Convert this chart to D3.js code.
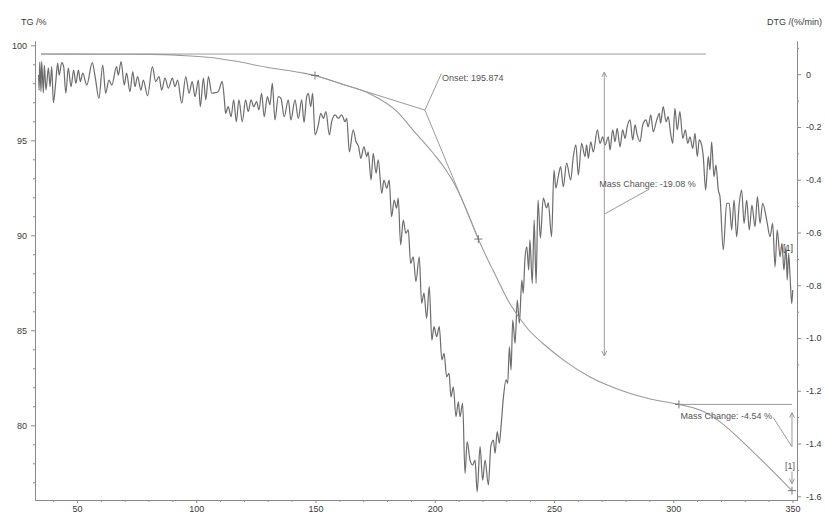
<!DOCTYPE html>
<html><head><meta charset="utf-8">
<script src="https://cdn.jsdelivr.net/npm/d3@7"></script>
<style>
html,body{margin:0;padding:0;background:#fff;}
svg{display:block;font-family:"Liberation Sans",Arial,sans-serif;}
</style></head><body>
<svg id="chart" width="825" height="516"></svg>
<script>
// Axis ticks
const tempTicks = [50, 100, 150, 200, 250, 300, 350];
const tgTicks = [80, 85, 90, 95, 100];
const dtgTicks = [0, -0.2, -0.4, -0.6, -0.8, -1.0, -1.2, -1.4, -1.6];

// TG curve: temperature (°C) and residual mass (%)
const tgTemp = [34.9, 59.6, 80.6, 93.2, 105.8, 116.2, 130.1, 143.5, 149.8, 160.3, 172.9, 184.2, 190.9, 199.3, 204.7, 208.5, 211.8, 214.8, 218.3, 221.5, 224.4, 231.6, 238.7, 247.1, 254.6, 265.1, 277.7, 290.3, 302.4, 311.2, 318.3, 334.3, 349.8];
const tgMass = [99.54, 99.53, 99.52, 99.47, 99.36, 99.17, 98.83, 98.57, 98.41, 97.99, 97.44, 96.51, 95.54, 94.33, 93.44, 92.65, 91.78, 90.88, 89.80, 88.91, 88.17, 86.38, 85.12, 84.12, 83.38, 82.54, 81.86, 81.38, 81.10, 80.80, 80.30, 78.50, 76.56];

// DTG curve: temperature (°C) and mass-loss rate (%/min)
const dtgTemp = [33.9, 34.1, 34.4, 34.9, 35.2, 35.9, 36.3, 37.0, 38.0, 38.7, 39.4, 40.1, 41.1, 41.9, 42.5, 43.6, 44.4, 45.3, 46.35, 47.5, 48.6, 49.5, 50.6, 51.4, 52.4, 54.1, 56.4, 57.6, 59.2, 60.8, 62.0, 63.4, 64.6, 66.6, 67.3, 68.5, 69.8, 70.8, 72.2, 73.4, 74.3, 75.4, 76.8, 77.8, 79.6, 81.6, 83.0, 84.4, 85.5, 86.9, 88.3, 90.0, 91.1, 92.2, 93.9, 95.6, 97.0, 98.3, 99.5, 100.9, 101.7, 103.0, 104.0, 105.1, 106.5, 107.9, 109.2, 110.9, 111.8, 112.3, 113.4, 114.6, 115.7, 116.8, 117.9, 119.3, 120.7, 121.8, 123.0, 124.1, 125.3, 126.3, 127.4, 128.5, 129.8, 130.9, 131.9, 133.0, 134.4, 135.5, 136.9, 138.6, 139.7, 141.4, 142.8, 144.2, 145.2, 146.3, 147.0, 148.0, 148.8, 149.8, 151.2, 152.2, 153.3, 154.4, 155.8, 156.8, 158.2, 159.6, 161.0, 162.4, 163.1, 164.2, 165.8, 167.0, 168.1, 169.0, 170.3, 171.5, 172.1, 173.3, 174.2, 175.4, 176.3, 177.8, 178.7, 179.9, 180.9, 181.9, 183.0, 184.0, 184.7, 185.7, 186.8, 187.9, 188.9, 189.9, 191.0, 192.1, 193.5, 194.5, 195.5, 196.6, 197.7, 198.8, 199.7, 200.8, 201.9, 203.0, 203.9, 205.0, 206.0, 206.8, 207.8, 208.9, 209.9, 210.6, 211.7, 212.7, 213.6, 214.8, 215.9, 216.9, 217.8, 219.0, 220.1, 221.1, 222.5, 223.5, 224.6, 225.3, 226.2, 227.1, 227.8, 228.7, 229.9, 230.6, 231.3, 232.0, 232.7, 233.7, 234.6, 235.5, 236.5, 237.1, 237.8, 238.6, 239.4, 239.9, 240.9, 241.7, 242.5, 243.3, 244.3, 245.5, 246.9, 247.6, 249.0, 250.0, 250.8, 251.8, 252.8, 253.9, 255.3, 257.0, 258.1, 259.2, 260.2, 261.6, 263.0, 263.7, 264.4, 265.4, 266.5, 268.2, 269.3, 270.4, 271.4, 272.8, 273.5, 274.6, 275.6, 276.5, 277.7, 278.8, 279.8, 280.7, 281.9, 283.0, 284.0, 284.9, 286.1, 287.2, 288.6, 289.5, 290.6, 291.6, 293.1, 294.2, 294.7, 295.8, 297.0, 297.9, 298.9, 299.8, 300.7, 301.7, 302.8, 304.0, 305.1, 306.1, 307.0, 308.2, 309.1, 310.1, 310.9, 311.9, 312.6, 313.6, 314.7, 315.4, 316.1, 317.1, 317.9, 318.9, 319.6, 321.0, 322.4, 323.5, 324.5, 325.5, 326.6, 327.7, 328.7, 329.7, 330.8, 331.9, 333.0, 334.3, 335.3, 336.4, 337.5, 339.2, 340.6, 341.7, 342.7, 343.6, 344.8, 345.6, 346.4, 347.3, 347.8, 348.4, 349.0, 349.7, 350.1];
const dtgRate = [-0.003, -0.060, 0.047, -0.066, 0.048, -0.071, 0.035, -0.060, 0.024, -0.047, 0.029, -0.108, -0.028, 0.042, -0.003, 0.044, 0.029, -0.072, 0.023, -0.047, 0.016, -0.034, 0.016, -0.028, 0.004, -0.041, 0.044, -0.009, -0.091, 0.035, -0.072, -0.022, -0.041, 0.029, -0.003, 0.048, -0.041, 0.004, -0.066, 0.010, -0.047, -0.009, -0.060, -0.022, -0.082, 0.029, -0.028, -0.009, -0.060, -0.015, -0.053, -0.015, -0.047, -0.022, -0.110, -0.009, -0.072, -0.028, -0.085, -0.022, -0.123, -0.015, -0.097, -0.009, -0.072, -0.070, -0.066, -0.028, -0.097, -0.148, -0.123, -0.161, -0.097, -0.180, -0.097, -0.180, -0.097, -0.142, -0.097, -0.123, -0.104, -0.135, -0.072, -0.161, -0.085, -0.116, -0.034, -0.173, -0.085, -0.091, -0.161, -0.097, -0.173, -0.097, -0.167, -0.097, -0.183, -0.085, -0.072, -0.123, -0.072, -0.230, -0.192, -0.148, -0.167, -0.142, -0.230, -0.180, -0.154, -0.167, -0.154, -0.180, -0.167, -0.294, -0.211, -0.256, -0.275, -0.319, -0.275, -0.312, -0.294, -0.401, -0.300, -0.375, -0.325, -0.451, -0.401, -0.432, -0.401, -0.540, -0.477, -0.508, -0.470, -0.647, -0.553, -0.603, -0.590, -0.717, -0.692, -0.786, -0.692, -0.868, -0.830, -0.925, -0.805, -1.008, -0.957, -0.995, -0.957, -1.083, -1.058, -1.147, -1.134, -1.223, -1.185, -1.298, -1.242, -1.298, -1.248, -1.513, -1.393, -1.463, -1.482, -1.463, -1.583, -1.412, -1.539, -1.463, -1.557, -1.412, -1.387, -1.437, -1.355, -1.399, -1.336, -1.235, -1.159, -1.172, -1.033, -1.121, -0.932, -1.020, -0.856, -0.944, -0.780, -0.830, -0.704, -0.654, -0.742, -0.628, -0.793, -0.553, -0.793, -0.477, -0.621, -0.470, -0.507, -0.488, -0.616, -0.363, -0.432, -0.388, -0.350, -0.426, -0.337, -0.401, -0.312, -0.268, -0.382, -0.262, -0.312, -0.268, -0.319, -0.256, -0.294, -0.211, -0.262, -0.237, -0.268, -0.237, -0.287, -0.211, -0.256, -0.205, -0.275, -0.211, -0.243, -0.199, -0.173, -0.249, -0.192, -0.230, -0.256, -0.192, -0.173, -0.199, -0.154, -0.218, -0.173, -0.148, -0.186, -0.123, -0.180, -0.161, -0.224, -0.262, -0.129, -0.211, -0.142, -0.243, -0.211, -0.262, -0.237, -0.281, -0.224, -0.312, -0.249, -0.268, -0.312, -0.439, -0.312, -0.363, -0.256, -0.388, -0.344, -0.439, -0.464, -0.666, -0.489, -0.489, -0.590, -0.477, -0.616, -0.489, -0.439, -0.565, -0.477, -0.590, -0.496, -0.578, -0.464, -0.565, -0.489, -0.553, -0.616, -0.565, -0.730, -0.590, -0.692, -0.641, -0.742, -0.654, -0.780, -0.679, -0.768, -0.870, -0.818];

// Evaluation results
const baselineMass = 99.54;
const baselineSpan = [34.9, 313.7];
const onsetTemp = 195.874;
const onsetMass = 96.59;
const tangentStart = [149.8, 98.41];
const inflectionPoint = [218.3, 89.80];
const step1Temp = 271.1;
const step1Arrow = [98.59, 83.65];
const step1Change = -19.08;
const step2Span = [302.4, 349.8];
const step2Level = 81.10;
const step2End = 76.56;
const step2Arrow = [80.66, 78.87];
const step2Change = -4.54;

const W = 825, H = 516;
const plot = {left: 35, right: 797, top: 41, bottom: 500};

const x = d3.scaleLinear().domain([32.39, 351.9]).range([plot.left, plot.right]);
const yTG = d3.scaleLinear().domain([76.068, 100.226]).range([plot.bottom, plot.top]);
const yDTG = d3.scaleLinear().domain([-1.614, 0.126]).range([plot.bottom, plot.top]);

const svg = d3.select("#chart");
svg.append("rect").attr("width", W).attr("height", H).attr("fill", "#fff");

const axisColor = "#8a8a8a";
const textColor = "#3a3a3a";
const fontSize = 9;

function styleAxis(g) {
  g.select(".domain").attr("stroke", axisColor).attr("stroke-width", 1);
  g.selectAll(".tick line").attr("stroke", axisColor);
  g.selectAll(".tick text").attr("fill", textColor).attr("font-size", fontSize)
    .attr("font-family", '"Liberation Sans", Arial, sans-serif');
}

// Minor ticks
const tempMinor = d3.range(40, 351, 10).filter(v => tempTicks.indexOf(v) < 0);
const tgMinor = d3.range(77, 100, 1).filter(v => tgTicks.indexOf(v) < 0);
const dtgMinor = d3.range(-15, 2, 2).map(v => v / 10);

svg.append("g").attr("transform", `translate(0,${plot.bottom})`)
  .call(d3.axisBottom(x).tickValues(tempMinor).tickSize(2).tickFormat("").tickSizeOuter(0))
  .call(styleAxis);
svg.append("g").attr("transform", `translate(${plot.left},0)`)
  .call(d3.axisLeft(yTG).tickValues(tgMinor).tickSize(2).tickFormat("").tickSizeOuter(0))
  .call(styleAxis);
svg.append("g").attr("transform", `translate(${plot.right},0)`)
  .call(d3.axisRight(yDTG).tickValues(dtgMinor).tickSize(2).tickFormat("").tickSizeOuter(0))
  .call(styleAxis);

// Major ticks with labels
svg.append("g").attr("transform", `translate(0,${plot.bottom})`)
  .call(d3.axisBottom(x).tickValues(tempTicks).tickSize(3).tickPadding(3).tickFormat(d3.format("d")).tickSizeOuter(0))
  .call(styleAxis);
svg.append("g").attr("transform", `translate(${plot.left},0)`)
  .call(d3.axisLeft(yTG).tickValues(tgTicks).tickSize(4).tickPadding(4).tickFormat(d3.format("d")).tickSizeOuter(0))
  .call(styleAxis);
svg.append("g").attr("transform", `translate(${plot.right},0)`)
  .call(d3.axisRight(yDTG).tickValues(dtgTicks).tickSize(4).tickPadding(5)
    .tickFormat(d => d === 0 ? "0" : d3.format(".1f")(d).replace("\u2212", "-")).tickSizeOuter(0))
  .call(styleAxis);

// Axis titles
svg.append("text").attr("x", 21).attr("y", 25).attr("font-size", fontSize).attr("fill", textColor).text("TG /%");
svg.append("text").attr("x", 822).attr("y", 25).attr("text-anchor", "end").attr("font-size", fontSize).attr("fill", textColor).text("DTG /(%/min)");

const annColor = "#9a9a9a";

// Baseline of the first step
svg.append("line")
  .attr("x1", x(baselineSpan[0])).attr("x2", x(baselineSpan[1]))
  .attr("y1", yTG(baselineMass)).attr("y2", yTG(baselineMass))
  .attr("stroke", annColor).attr("stroke-width", 1);

// DTG curve
const dtgData = dtgTemp.map((t, i) => [t, dtgRate[i]]);
svg.append("path").datum(dtgData)
  .attr("fill", "none").attr("stroke", "#6c6c6c").attr("stroke-width", 1.2)
  .attr("stroke-linejoin", "round")
  .attr("d", d3.line().x(d => x(d[0])).y(d => yDTG(d[1])).curve(d3.curveMonotoneX));

// TG curve
const tgData = tgTemp.map((t, i) => [t, tgMass[i]]);
svg.append("path").datum(tgData)
  .attr("fill", "none").attr("stroke", annColor).attr("stroke-width", 1.1)
  .attr("d", d3.line().x(d => x(d[0])).y(d => yTG(d[1])).curve(d3.curveMonotoneX));

// Onset tangents
const ox = x(onsetTemp), oy = yTG(onsetMass);
svg.append("polyline")
  .attr("points", [[x(tangentStart[0]), yTG(tangentStart[1])], [ox, oy], [x(inflectionPoint[0]), yTG(inflectionPoint[1])]].map(p => p.join(",")).join(" "))
  .attr("fill", "none").attr("stroke", annColor).attr("stroke-width", 1);
svg.append("line").attr("x1", ox).attr("y1", oy).attr("x2", ox + 16.5).attr("y2", oy - 36.5)
  .attr("stroke", annColor).attr("stroke-width", 1);
svg.append("text").attr("x", ox + 17).attr("y", oy - 29.5).attr("font-size", fontSize).attr("fill", "#555")
  .text(`Onset: ${onsetTemp.toFixed(3)}`);

// Cross markers
function cross(t, m) {
  const cx = x(t), cy = yTG(m);
  svg.append("path").attr("d", `M${cx - 4},${cy}H${cx + 4}M${cx},${cy - 4}V${cy + 4}`)
    .attr("stroke", "#777").attr("stroke-width", 1);
}
cross(tangentStart[0], tangentStart[1]);
cross(inflectionPoint[0], inflectionPoint[1]);
cross(step2Span[0], step2Level);
cross(step2Span[1], step2End);

// Open arrow head helper
function head(px, py, dir) {
  svg.append("path").attr("d", `M${px - 2.5},${py - 5 * dir}L${px},${py}L${px + 2.5},${py - 5 * dir}`)
    .attr("fill", "none").attr("stroke", annColor).attr("stroke-width", 1);
}

// First mass step
const s1x = x(step1Temp), s1t = yTG(step1Arrow[0]), s1b = yTG(step1Arrow[1]);
svg.append("line").attr("x1", s1x).attr("x2", s1x).attr("y1", s1t).attr("y2", s1b)
  .attr("stroke", annColor).attr("stroke-width", 1);
head(s1x, s1t, -1);
head(s1x, s1b, 1);
svg.append("line").attr("x1", s1x).attr("y1", s1t + 142).attr("x2", s1x + 45).attr("y2", s1t + 117)
  .attr("stroke", annColor).attr("stroke-width", 1);
svg.append("text").attr("x", s1x - 5).attr("y", s1t + 114.5).attr("font-size", fontSize).attr("fill", "#555")
  .text(`Mass Change: ${step1Change.toFixed(2)} %`);

// Second mass step
const s2x = x(step2Span[1]);
svg.append("line").attr("x1", x(step2Span[0])).attr("x2", s2x)
  .attr("y1", yTG(step2Level)).attr("y2", yTG(step2Level))
  .attr("stroke", annColor).attr("stroke-width", 1);
const s2t = yTG(step2Arrow[0]), s2b = yTG(step2Arrow[1]);
svg.append("line").attr("x1", s2x).attr("x2", s2x).attr("y1", s2t).attr("y2", s2b)
  .attr("stroke", annColor).attr("stroke-width", 1);
head(s2x, s2t, -1);
svg.append("line").attr("x1", s2x - 19).attr("y1", s2t + 4.5).attr("x2", s2x).attr("y2", s2b)
  .attr("stroke", annColor).attr("stroke-width", 1);
svg.append("text").attr("x", x(step2Span[0]) + 1.5).attr("y", s2t + 6.5).attr("font-size", fontSize).attr("fill", "#555")
  .text(`Mass Change: ${step2Change.toFixed(2)} %`);

// Curve identifiers
const endY = yTG(step2End);
svg.append("text").attr("x", s2x - 2).attr("y", endY - 22).attr("text-anchor", "middle")
  .attr("font-size", fontSize).style("fill", "#555").text("[1]");
svg.append("line").attr("x1", s2x).attr("x2", s2x).attr("y1", endY - 19).attr("y2", endY - 7)
  .attr("stroke", annColor).attr("stroke-width", 1);
head(s2x, endY - 7, 1);
const dEnd = dtgData[dtgData.length - 8];
svg.append("text").attr("x", x(dEnd[0]) + 6).attr("y", yDTG(-0.67)).attr("text-anchor", "middle")
  .attr("font-size", fontSize).style("fill", "#333").text("[1]");
</script>
</body></html>
